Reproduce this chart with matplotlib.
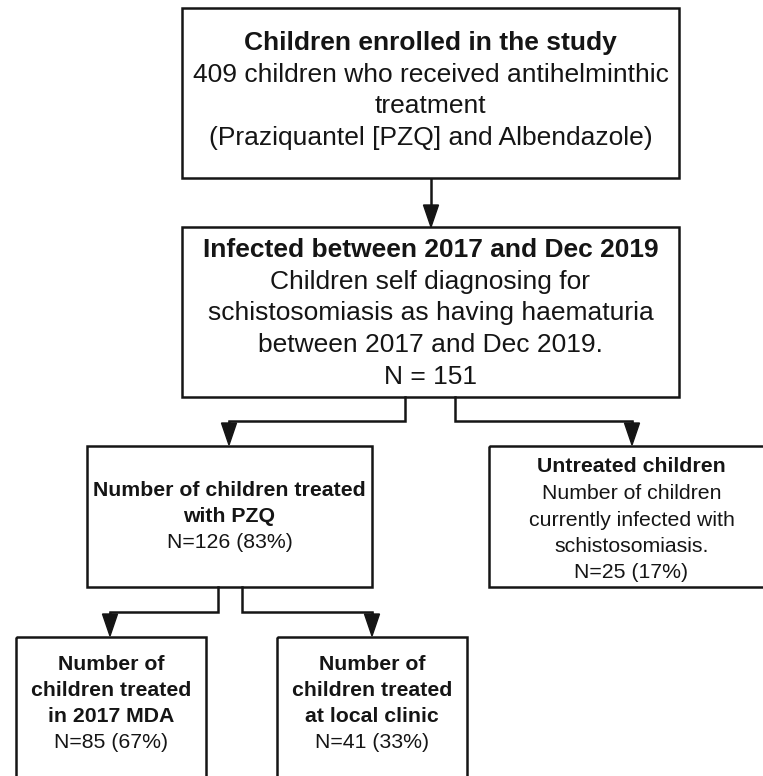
import matplotlib.pyplot as plt
from matplotlib.patches import Rectangle, Polygon

plt.rcParams['font.family'] = ['Liberation Sans', 'DejaVu Sans']

# box texts: (bold title lines, normal lines)
enrolled_title = ["Children enrolled in the study"]
enrolled_body = ["409 children who received antihelminthic", "treatment",
                 "(Praziquantel [PZQ] and Albendazole)"]
infected_title = ["Infected between 2017 and Dec 2019"]
infected_body = ["Children self diagnosing for", "schistosomiasis as having haematuria",
                 "between 2017 and Dec 2019.", "N = 151"]
pzq_title = ["Number of children treated", "with PZQ"]
pzq_body = ["N=126 (83%)"]
untreated_title = ["Untreated children"]
untreated_body = ["Number of children", "currently infected with",
                  "schistosomiasis.", "N=25 (17%)"]
mda_title = ["Number of", "children treated", "in 2017 MDA"]
mda_body = ["N=85 (67%)"]
clinic_title = ["Number of", "children treated", "at local clinic"]
clinic_body = ["N=41 (33%)"]

W, H = 763, 776
fig = plt.figure(figsize=(W / 100, H / 100), dpi=100)
ax = fig.add_axes([0, 0, 1, 1])
ax.set_xlim(0, W)
ax.set_ylim(H, 0)
ax.axis('off')

LW = 1.8
INK = '#151515'

def box(x0, y0, x1, y1):
    ax.add_patch(Rectangle((x0, y0), x1 - x0, y1 - y0, fill=False,
                           edgecolor=INK, linewidth=LW, zorder=2))

def text(cx, ytop, title, body, size, spacing):
    y = ytop
    for t in title:
        ax.text(cx, y, t, ha='center', va='center', fontsize=size,
                fontweight='bold', color=INK)
        y += spacing
    for t in body:
        ax.text(cx, y, t, ha='center', va='center', fontsize=size,
                color=INK)
        y += spacing

def arrow(x, y0, y1):
    ax.plot([x, x], [y0, y1 - 20], color=INK, lw=LW, solid_capstyle='butt')
    ax.add_patch(Polygon([[x - 7.5, y1 - 22], [x + 7.5, y1 - 22], [x, y1]],
                         closed=True, color=INK, zorder=3))

def elbow(xs, ys, xe, yh, ye):
    ax.plot([xs, xs, xe], [ys, yh, yh], color=INK, lw=LW,
            solid_joinstyle='miter')
    arrow(xe, yh, ye)

# top box
box(182, 8, 679, 178)
text(430.5, 43, enrolled_title, enrolled_body, 19, 31.5)
arrow(431, 178, 227)

# second box
box(182, 227, 679, 397)
text(430.5, 250, infected_title, infected_body, 19, 31.7)
elbow(405, 397, 229, 421, 445)
elbow(455, 397, 632, 421, 445)

# third level
box(87, 446, 372, 587)
text(229.5, 490, pzq_title, pzq_body, 15.3, 26)
box(489, 446, 775, 587)
text(631.5, 467, untreated_title, untreated_body, 15.3, 26.5)
elbow(218, 587, 110, 612, 636)
elbow(242, 587, 372, 612, 636)

# bottom
box(16, 637, 206, 790)
text(111, 665, mda_title, mda_body, 15.3, 25.7)
box(277, 637, 467, 790)
text(372, 665, clinic_title, clinic_body, 15.3, 25.7)

fig.savefig('out.png', dpi=100)
